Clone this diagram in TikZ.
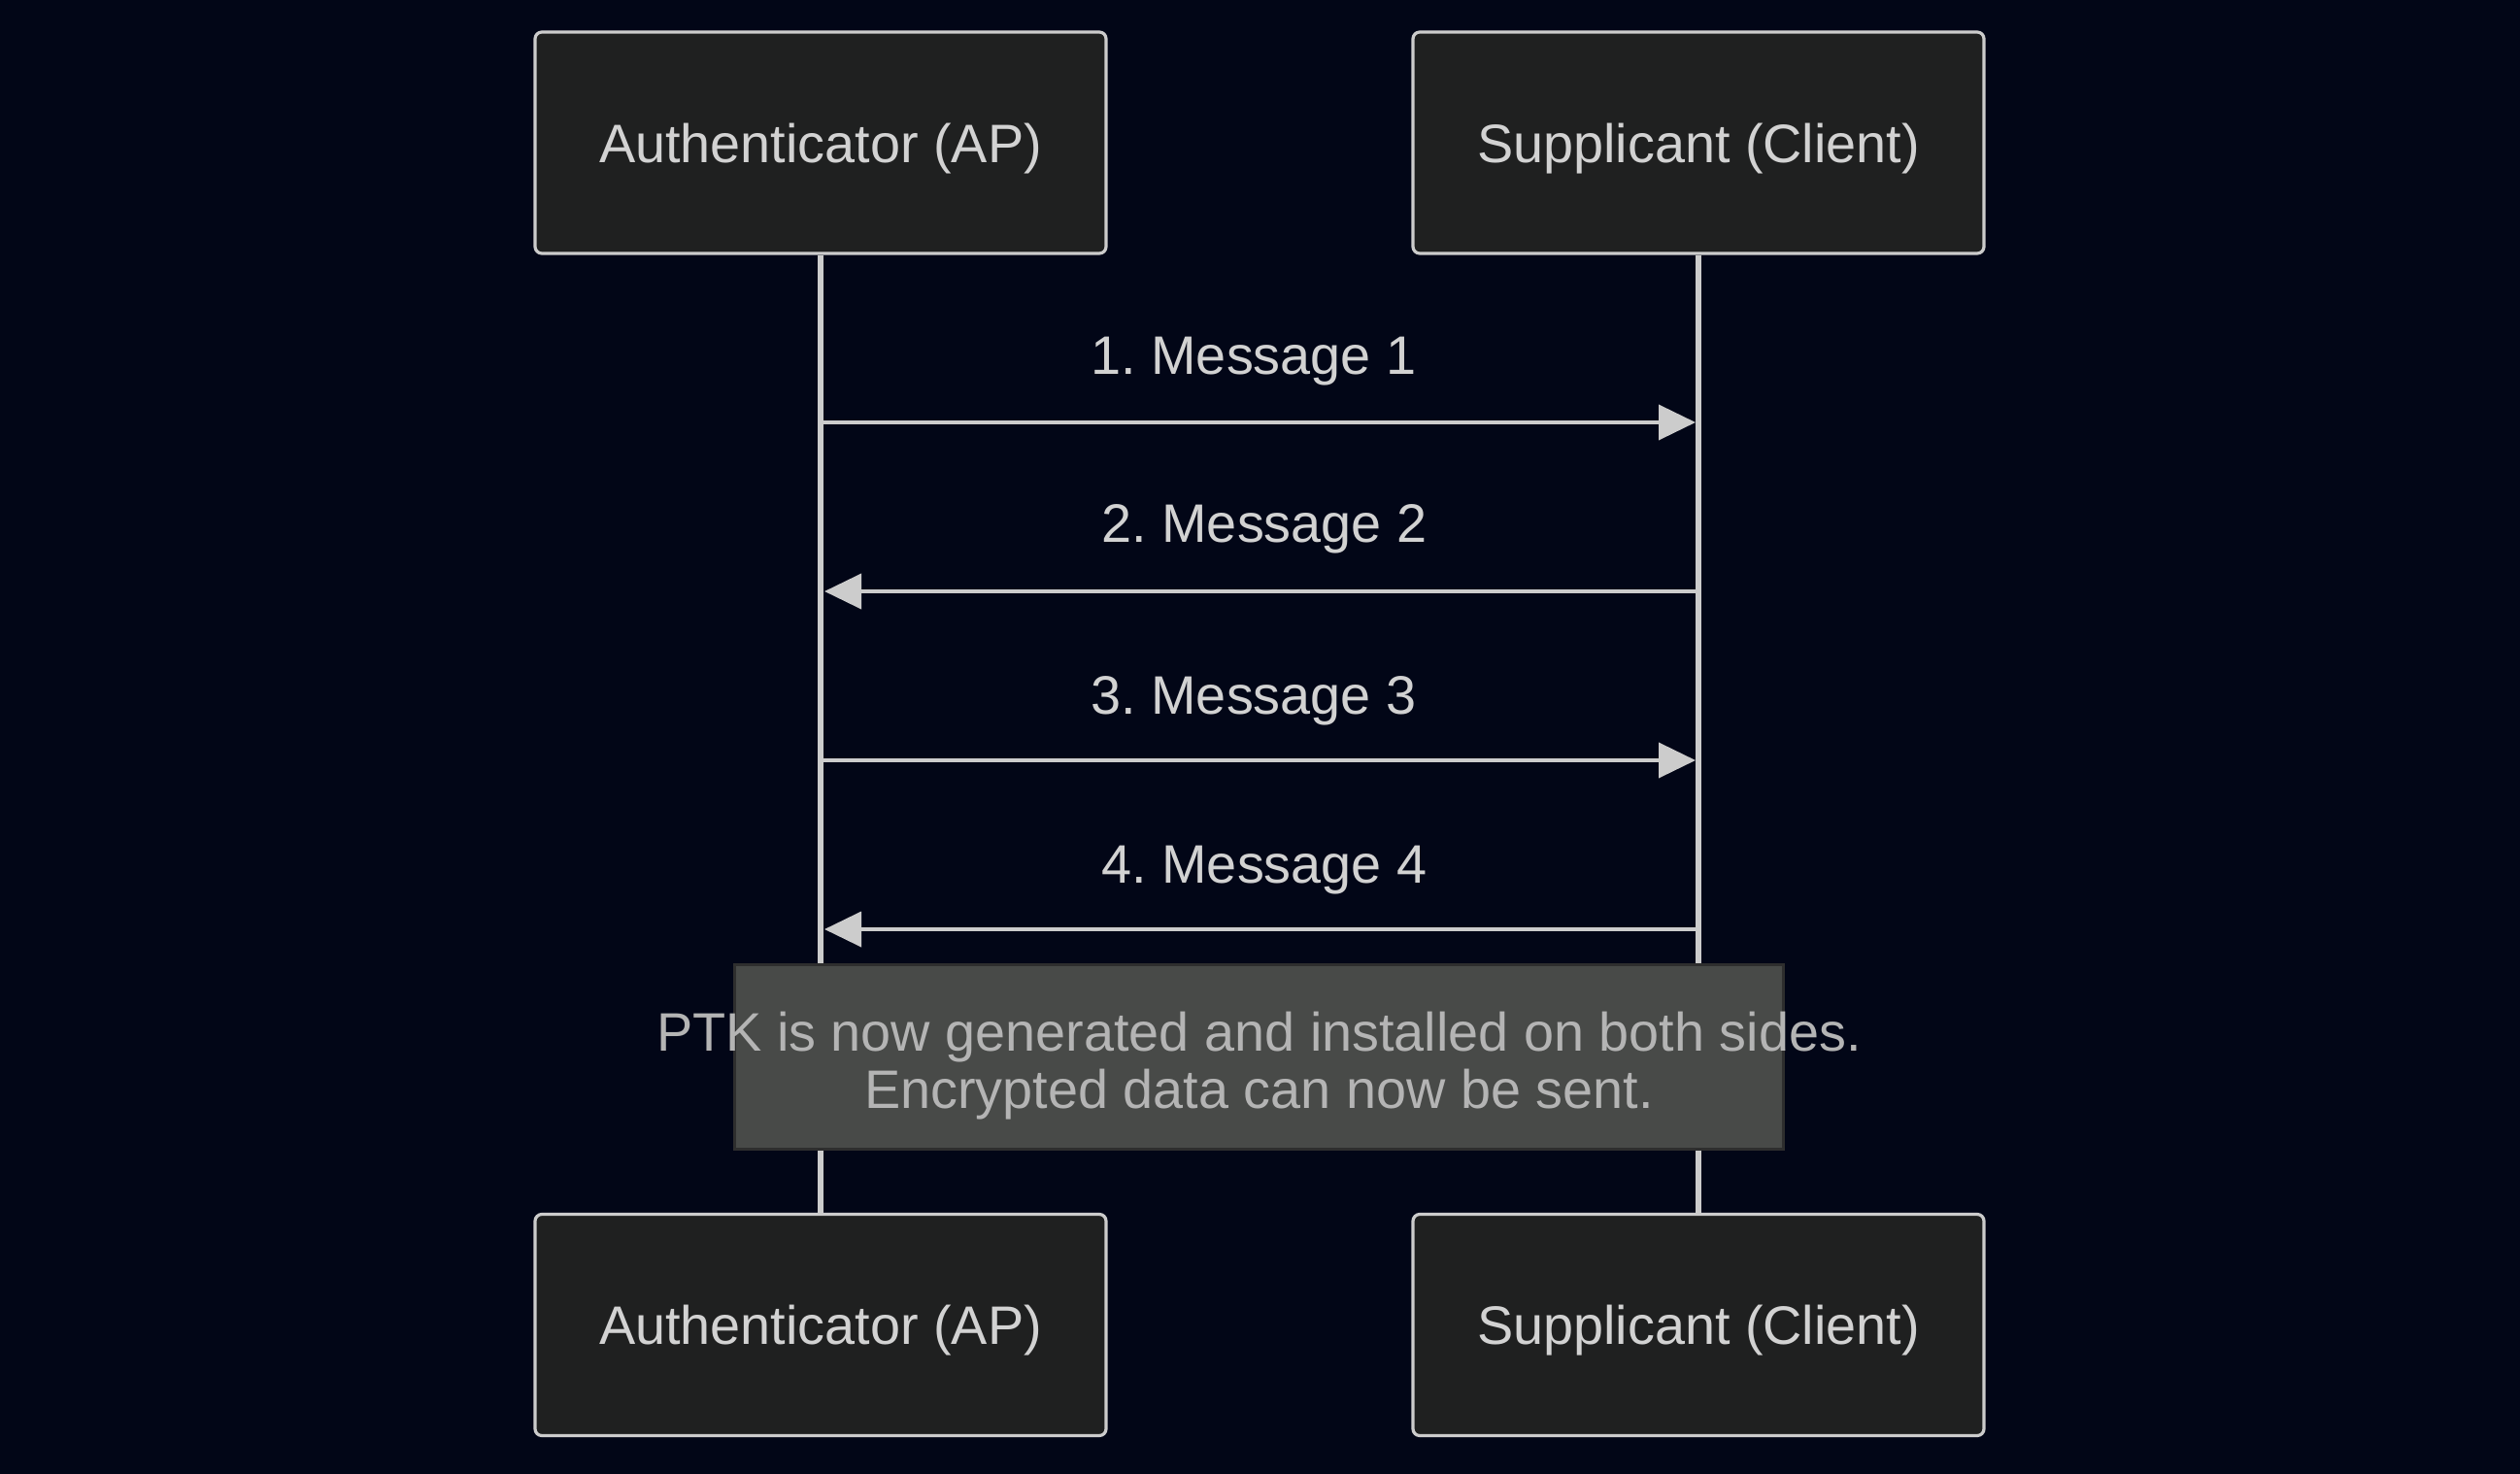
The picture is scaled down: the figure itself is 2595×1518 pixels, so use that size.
\documentclass[tikz,border=0pt]{standalone}
\usepackage{fontspec}
\setmainfont{Liberation Sans}
\usetikzlibrary{arrows.meta}
\definecolor{bg}{HTML}{020617}
\definecolor{actorfill}{HTML}{1F2020}
\definecolor{linegray}{HTML}{CCCCCC}
\definecolor{txt}{HTML}{D2D2D2}
\definecolor{notefill}{HTML}{484A48}
\definecolor{noteborder}{HTML}{2E2E2E}
\definecolor{notetxt}{HTML}{B4B4B4}
\frenchspacing
\begin{document}
\begin{tikzpicture}[x=0.5pt,y=-0.5pt,
  basefont/.style={font=\fontsize{27.9}{29.5}\selectfont},
  actor/.style={basefont, draw=linegray, line width=1.6pt, fill=actorfill,
    rounded corners=3.5pt, minimum width=294pt, minimum height=114pt,
    inner sep=0pt, text=txt, text height=26pt, text depth=5.9pt},
  lifeline/.style={draw=linegray, line width=3pt},
  msg/.style={draw=linegray, line width=1.9pt,
    -{Triangle[length=19pt,width=18pt]}},
  msglabel/.style={basefont, text=txt, anchor=base, inner sep=0pt},
  notebox/.style={draw=noteborder, line width=1.5pt, fill=notefill,
    minimum width=540pt, minimum height=95pt, inner sep=0pt},
  notetext/.style={basefont, text=notetxt, align=center, inner sep=0pt}]
\useasboundingbox[fill=bg] (0,0) rectangle (2595,1518);

% actors
\node[actor] (a1) at (845,147) {Authenticator (AP)};
\node[actor] (s1) at (1749,147) {Supplicant (Client)};
\node[actor] (a2) at (845,1364.5) {Authenticator (AP)};
\node[actor] (s2) at (1749,1364.5) {Supplicant (Client)};

% lifelines
\draw[lifeline] (a1.south) -- (a2.north);
\draw[lifeline] (s1.south) -- (s2.north);

% message end points
\coordinate (a1y) at (846,435);  \coordinate (s1y) at (1746,435);
\coordinate (a2y) at (849,609);  \coordinate (s2y) at (1749,609);
\coordinate (a3y) at (846,783);  \coordinate (s3y) at (1746,783);
\coordinate (a4y) at (849,957);  \coordinate (s4y) at (1749,957);

\draw[msg] (a1y) -- (s1y);
\draw[msg] (s2y) -- (a2y);
\draw[msg] (a3y) -- (s3y);
\draw[msg] (s4y) -- (a4y);

\node[msglabel] (m1) at (1291,386) {1. Message 1};
\node[msglabel] (m2) at (1302,559) {2. Message 2};
\node[msglabel] (m3) at (1291,735) {3. Message 3};
\node[msglabel] (m4) at (1302,909) {4. Message 4};

% note
\node[notebox] (note) at (1296.5,1088) {};
\node[notetext] (notetxt) at ([yshift=-5pt]note.center) {PTK is now generated and installed on both sides.\\Encrypted data can now be sent.};
\end{tikzpicture}
\end{document}
